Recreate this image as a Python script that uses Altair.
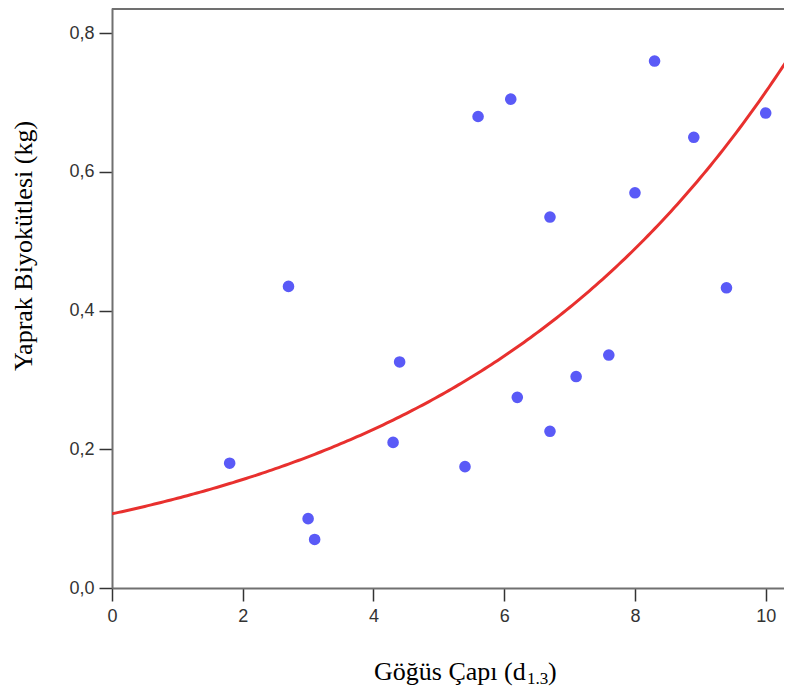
import altair as alt
import pandas as pd

# Data
diameter = [1.8, 2.7, 3.0, 3.1, 4.3, 4.4, 5.4, 5.6, 6.1, 6.2, 6.7, 6.7, 7.1, 7.6, 8.0, 8.3, 8.9, 9.4, 10.0]
leaf_mass = [0.180, 0.435, 0.100, 0.070, 0.210, 0.326, 0.175, 0.680, 0.705, 0.275,
             0.535, 0.226, 0.305, 0.336, 0.570, 0.760, 0.650, 0.433, 0.685]

# exponential fit y = a * exp(b * x), parameters
fit_a = 0.107
fit_b = 0.19

x_ticks = [0, 2, 4, 6, 8, 10]
y_ticks = [0, 0.2, 0.4, 0.6, 0.8]
x_title_parts = ["Göğüs Çapı (d", "1.3", ")"]
y_title = "Yaprak Biyokütlesi (kg)"

W, H = 672, 580
x_dom = [0, 10.28]
y_dom = [0, 0.8365]

df = pd.DataFrame({"x": diameter, "y": leaf_mass})

x_axis = alt.Axis(values=x_ticks, format="d", title=None, grid=False, tickSize=13,
                  labelFont="Liberation Sans", labelFontSize=18, labelColor="#333",
                  domainColor="#707070", domainWidth=2, tickColor="#333", tickWidth=1.5,
                  labelPadding=6, labelFlush=False, labelOverlap=False)
y_axis = alt.Axis(values=y_ticks, title=y_title, grid=False, tickSize=13,
                  labelFont="Liberation Sans", labelFontSize=18, labelColor="#333",
                  labelExpr="replace(format(datum.value, '.1f'), '.', ',')",
                  domainColor="#707070", domainWidth=2, tickColor="#333", tickWidth=1.5,
                  labelPadding=5, labelFlush=False, labelOverlap=False,
                  titleFont="Liberation Serif", titleFontSize=26, titleFontWeight="normal",
                  titleColor="black", titleAngle=270, titleBaseline="alphabetic",
                  titleAlign="center", titleX=-80.3, titleY=237.5)

xs = alt.Scale(domain=x_dom, nice=False, zero=False)
ys = alt.Scale(domain=y_dom, nice=False, zero=False)

points = alt.Chart(df).mark_circle(size=135, color="#5a5af7", opacity=1).encode(
    x=alt.X("x:Q", scale=xs, axis=x_axis),
    y=alt.Y("y:Q", scale=ys, axis=y_axis),
)

curve = alt.Chart(alt.sequence(0, 10.45, 0.05, as_="x")).transform_calculate(
    y=f"{fit_a} * exp({fit_b} * datum.x)"
).mark_line(color="#e8302e", strokeWidth=3, clip=True).encode(
    x=alt.X("x:Q", scale=xs),
    y=alt.Y("y:Q", scale=ys),
)

frame_top = alt.Chart(pd.DataFrame({"k": [0]})).mark_rule(color="#707070", strokeWidth=2).encode(
    x=alt.value(0), x2=alt.value(W), y=alt.value(1)
)

t_main = alt.Chart(pd.DataFrame({"t": [x_title_parts[0]]})).mark_text(
    font="Liberation Serif", fontSize=26, align="right", baseline="alphabetic", color="black"
).encode(text="t:N", x=alt.value(413.7), y=alt.value(672))

t_sub = alt.Chart(pd.DataFrame({"t": [x_title_parts[1]]})).mark_text(
    font="Liberation Serif", fontSize=17, align="left", baseline="alphabetic", color="black"
).encode(text="t:N", x=alt.value(415), y=alt.value(675.5))

t_end = alt.Chart(pd.DataFrame({"t": [x_title_parts[2]]})).mark_text(
    font="Liberation Serif", fontSize=26, align="left", baseline="alphabetic", color="black"
).encode(text="t:N", x=alt.value(436), y=alt.value(672))

chart = alt.layer(curve, points, frame_top, t_main, t_sub, t_end).properties(
    width=W, height=H,
    autosize=alt.AutoSizeParams(type="none"),
    padding={"left": 104, "top": 0, "right": 0, "bottom": 98},
).configure_view(stroke=None)

chart.save("out.html", embed_options={"renderer": "svg", "actions": False})
